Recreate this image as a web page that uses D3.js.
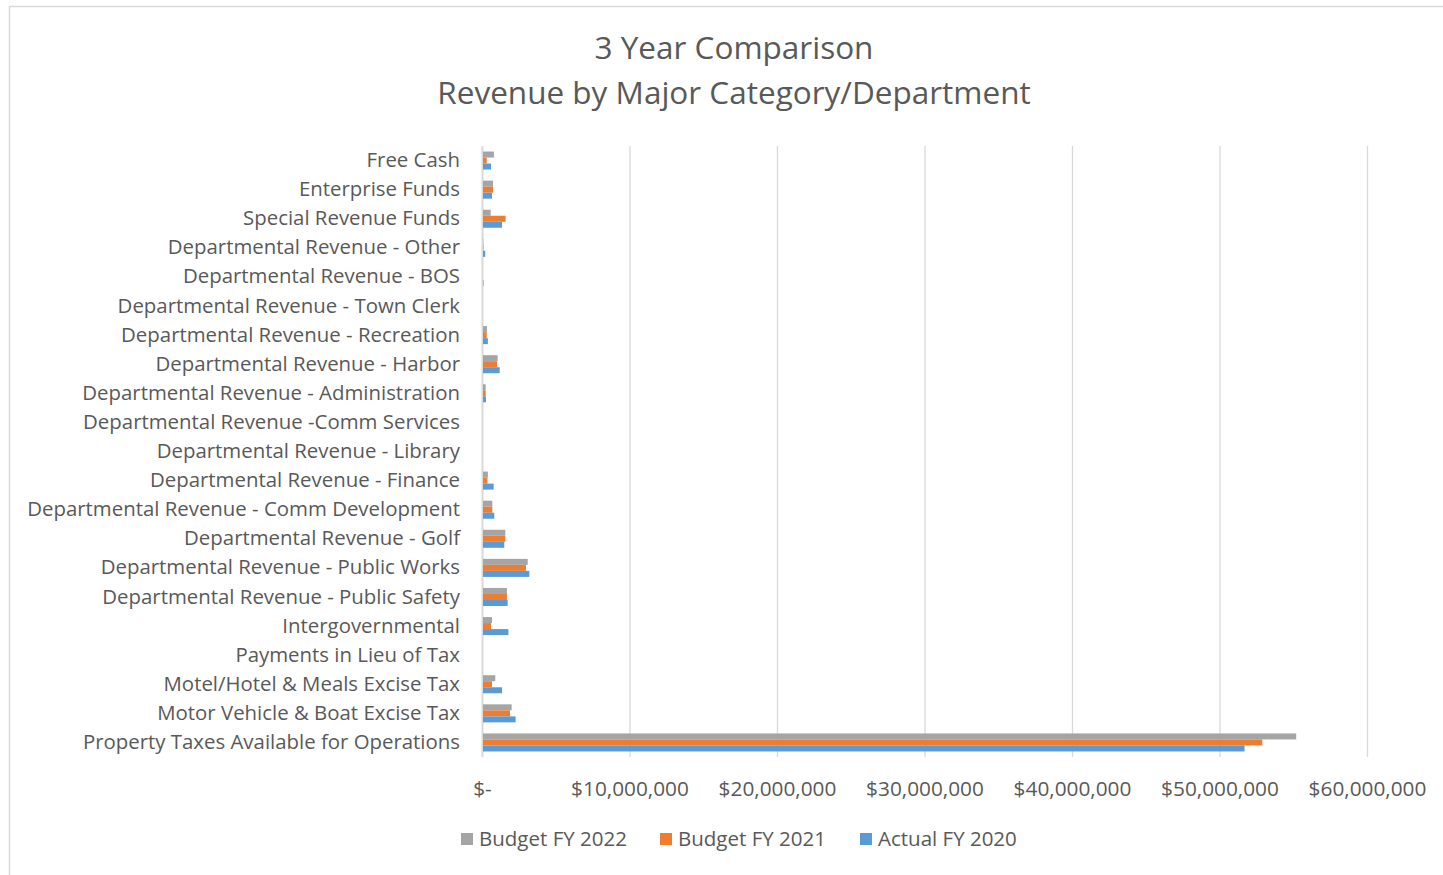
<!DOCTYPE html>
<html><head><meta charset="utf-8">
<script src="https://cdn.jsdelivr.net/npm/d3@7"></script>
<style>
html,body{margin:0;padding:0;background:#fff;}
svg text{font-family:"Open Sans",sans-serif;fill:#595959;}
</style></head>
<body>
<svg id="chart" width="1443" height="875"></svg>
<script>
const categories = [
  "Property Taxes Available for Operations",
  "Motor Vehicle & Boat Excise Tax",
  "Motel/Hotel & Meals Excise Tax",
  "Payments in Lieu of Tax",
  "Intergovernmental",
  "Departmental Revenue - Public Safety",
  "Departmental Revenue - Public Works",
  "Departmental Revenue - Golf",
  "Departmental Revenue - Comm Development",
  "Departmental Revenue - Finance",
  "Departmental Revenue - Library",
  "Departmental Revenue -Comm Services",
  "Departmental Revenue - Administration",
  "Departmental Revenue - Harbor",
  "Departmental Revenue - Recreation",
  "Departmental Revenue - Town Clerk",
  "Departmental Revenue - BOS",
  "Departmental Revenue - Other",
  "Special Revenue Funds",
  "Enterprise Funds",
  "Free Cash"
];
const seriesNames = ["Budget FY 2022", "Budget FY 2021", "Actual FY 2020"];
const budgetFY2022 = [55200000, 2010000, 900000, 0, 680000, 1690000, 3100000, 1580000, 700000, 400000, 0, 0, 250000, 1060000, 340000, 10000, 50000, 90000, 590000, 750000, 810000];
const budgetFY2021 = [52900000, 1900000, 680000, 0, 610000, 1690000, 2980000, 1580000, 700000, 370000, 0, 0, 250000, 1020000, 320000, 10000, 50000, 100000, 1600000, 750000, 320000];
const actualFY2020 = [51700000, 2280000, 1360000, 0, 1790000, 1740000, 3210000, 1510000, 830000, 790000, 0, 0, 270000, 1200000, 400000, 10000, 100000, 220000, 1360000, 680000, 610000];
const xTicks = [0, 10000000, 20000000, 30000000, 40000000, 50000000, 60000000];
const colors = ["#A5A5A5", "#ED7D31", "#5B9BD5"];

const svg = d3.select("#chart");
svg.append("rect").attr("x", 9.5).attr("y", 6.5).attr("width", 1440).attr("height", 880)
  .attr("fill", "#fff").attr("stroke", "#d9d9d9").attr("stroke-width", 1.5);

const pLeft = 482, pRight = 1367, pTop = 146, pBottom = 757;
const x = d3.scaleLinear().domain([0, 60000000]).range([pLeft, pRight]);
const y = d3.scaleBand().domain(categories.slice().reverse()).range([pTop, pBottom]).paddingInner(0.38).paddingOuter(0.19);
const sub = d3.scaleBand().domain(seriesNames).range([0, y.bandwidth()]);

// gridlines
svg.append("g").selectAll("line").data(xTicks).join("line")
  .attr("x1", d => x(d) + 0.5).attr("x2", d => x(d) + 0.5)
  .attr("y1", pTop).attr("y2", pBottom)
  .attr("stroke", "#d9d9d9").attr("stroke-width", d => d === 0 ? 2 : 1.3);

// x axis labels
const fmt = d => d === 0 ? "$-" : "$" + d3.format(",")(d);
const xAxis = d3.axisBottom(x).tickValues(xTicks).tickFormat(fmt).tickSize(0).tickPadding(0);
const gx = svg.append("g").attr("transform", `translate(0,${pBottom + 24})`).call(xAxis);
gx.select(".domain").remove();
gx.selectAll("text").attr("font-size", 20.8).attr("font-family", "Open Sans").attr("fill", "#595959");

// y labels
const yAxis = d3.axisLeft(y).tickSize(0).tickPadding(22);
const gy = svg.append("g").attr("transform", `translate(${pLeft},0)`).call(yAxis);
gy.select(".domain").remove();
gy.selectAll("text").attr("font-size", 20.4).attr("font-family", "Open Sans").attr("fill", "#595959");

// bars
const series = [budgetFY2022, budgetFY2021, actualFY2020];
const groups = svg.append("g").selectAll("g").data(categories).join("g")
  .attr("transform", c => `translate(0,${y(c)})`);
groups.selectAll("rect").data((c, i) => series.map((s, k) => ({k, v: s[i]}))).join("rect")
  .attr("x", x(0) + 1)
  .attr("y", d => sub(seriesNames[d.k]))
  .attr("height", sub.bandwidth())
  .attr("width", d => Math.max(0, x(d.v) - x(0) - 1))
  .attr("fill", d => colors[d.k]);

// title
const title = svg.append("text").attr("text-anchor", "middle").attr("font-size", 31.5);
title.append("tspan").attr("x", 734).attr("y", 59).text("3 Year Comparison");
title.append("tspan").attr("x", 734).attr("y", 104).text("Revenue by Major Category/Department");

// legend
const legendX = [461, 660, 860];
const lg = svg.append("g").selectAll("g").data(seriesNames).join("g")
  .attr("transform", (d, i) => `translate(${legendX[i]},833)`);
lg.append("rect").attr("width", 12).attr("height", 12).attr("fill", (d, i) => colors[i]);
lg.append("text").attr("x", 18).attr("y", 12.5).attr("font-size", 20.5).text(d => d);
</script>
</body></html>
